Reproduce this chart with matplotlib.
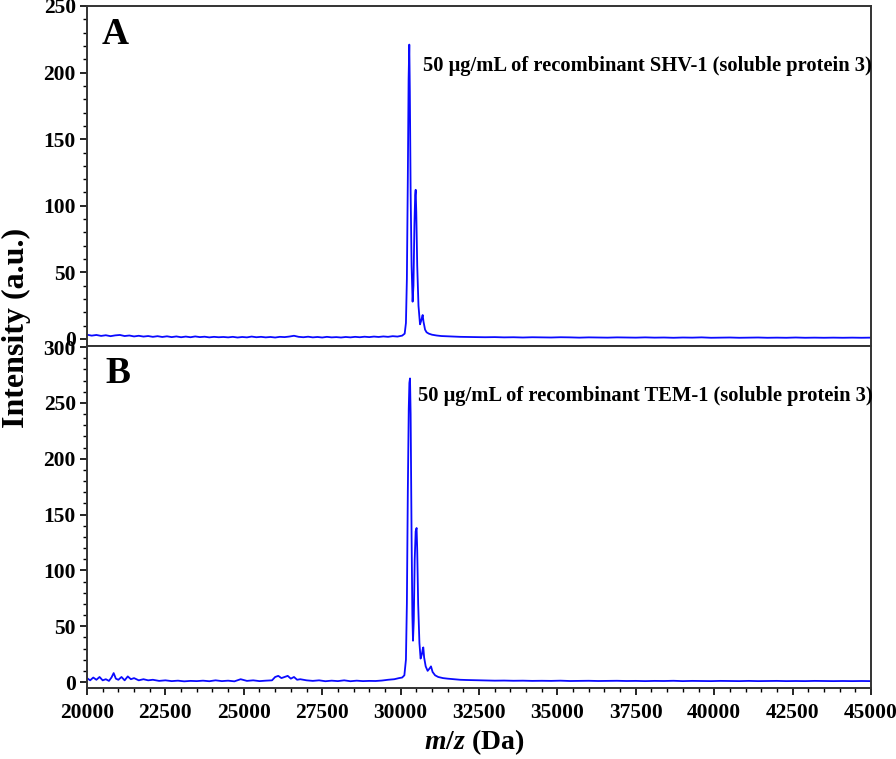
import numpy as np
import matplotlib
matplotlib.use('Agg')
import matplotlib.pyplot as plt
from matplotlib.ticker import MultipleLocator


plt.rcParams['font.family'] = ['Liberation Serif', 'DejaVu Serif']
plt.rcParams['font.weight'] = 'bold'
plt.rcParams['mathtext.fontset'] = 'custom'
plt.rcParams['mathtext.it'] = 'Liberation Serif:italic:bold'
plt.rcParams['mathtext.rm'] = 'Liberation Serif:bold'


# panel A : SHV-1 (m/z in Da, intensity in a.u.)
mz_a = [20000, 20150, 20300, 20450, 20600, 20750, 20900, 21050, 21200, 21350,
        21500, 21650, 21800, 21950, 22100, 22250, 22400, 22550, 22700, 22850,
        23000, 23150, 23300, 23450, 23600, 23750, 23900, 24050, 24200, 24350,
        24500, 24650, 24800, 24950, 25100, 25250, 25400, 25550, 25700, 25850,
        26000, 26150, 26300, 26450, 26600, 26750, 26900, 27050, 27200, 27350,
        27500, 27650, 27800, 27950, 28100, 28250, 28400, 28550, 28700, 28850,
        29000, 29150, 29300, 29450, 29600, 29750, 29900, 30050, 30130, 30170,
        30200, 30230, 30255, 30277, 30295, 30320, 30350, 30383, 30410, 30440,
        30465, 30481, 30500, 30530, 30570, 30619, 30660, 30690, 30704, 30730,
        30780, 30829, 30900, 31000, 31150, 31300, 31500, 31700, 31900, 32100,
        32400, 32700, 33000, 33300, 33600, 33900, 34200, 34500, 34800, 35100,
        35400, 35700, 36000, 36300, 36600, 36900, 37200, 37500, 37800, 38100,
        38400, 38700, 39000, 39300, 39600, 39900, 40200, 40500, 40800, 41100,
        41400, 41700, 42000, 42300, 42600, 42900, 43200, 43500, 43800, 44100,
        44400, 44700, 45000]
int_a = [3.2, 2.5, 3.0, 2.3, 2.8, 2.1, 2.7, 3.0, 2.2, 2.6,
         1.9, 2.4, 1.8, 2.2, 1.6, 2.1, 1.5, 2.0, 1.4, 1.9,
         1.3, 1.8, 1.3, 1.9, 1.4, 1.7, 1.2, 1.6, 1.3, 1.5,
         1.2, 1.6, 1.1, 1.5, 1.2, 1.8, 1.3, 1.6, 1.2, 1.5,
         1.1, 1.6, 1.4, 1.8, 2.4, 1.6, 1.3, 1.7, 1.2, 1.5,
         1.1, 1.6, 1.2, 1.4, 1.1, 1.5, 1.2, 1.6, 1.3, 1.7,
         1.4, 1.8, 1.5, 1.9, 1.6, 2.1, 1.8, 2.5, 4.0, 12,
         45, 120, 195, 221, 185, 110, 55, 28, 40, 85,
         108, 112, 95, 55, 25, 11, 14, 17, 18, 13,
         7, 5, 4, 3.2, 2.6, 2.2, 2.0, 1.8, 1.6, 1.5,
         1.4, 1.3, 1.4, 1.2, 1.3, 1.1, 1.3, 1.2, 1.1, 1.3,
         1.2, 1.0, 1.2, 1.1, 1.0, 1.2, 1.1, 1.0, 1.2, 1.0,
         1.1, 0.9, 1.1, 1.0, 1.2, 0.9, 1.0, 1.1, 0.9, 1.0,
         1.1, 0.9, 1.0, 0.9, 1.1, 0.9, 1.0, 0.9, 1.0, 0.9,
         1.0, 0.9, 1.0]

# panel B : TEM-1
mz_b = [20000, 20100, 20200, 20300, 20400, 20500, 20600, 20700, 20780, 20850,
        20920, 21000, 21100, 21200, 21300, 21400, 21500, 21650, 21800, 21950,
        22100, 22300, 22500, 22700, 22900, 23100, 23300, 23500, 23700, 23900,
        24100, 24300, 24500, 24700, 24900, 25100, 25300, 25500, 25700, 25900,
        26000, 26100, 26200, 26300, 26400, 26500, 26600, 26700, 26800, 27000,
        27200, 27400, 27600, 27800, 28000, 28200, 28400, 28600, 28800, 29000,
        29200, 29400, 29600, 29800, 29950, 30050, 30120, 30170, 30200, 30230,
        30260, 30280, 30300, 30320, 30350, 30375, 30395, 30420, 30450, 30480,
        30510, 30530, 30560, 30600, 30638, 30680, 30710, 30724, 30750, 30800,
        30862, 30920, 30969, 31020, 31100, 31200, 31350, 31500, 31700, 31900,
        32100, 32400, 32700, 33000, 33300, 33600, 33900, 34200, 34500, 34800,
        35100, 35400, 35700, 36000, 36300, 36600, 36900, 37200, 37500, 37800,
        38100, 38400, 38700, 39000, 39300, 39600, 39900, 40200, 40500, 40800,
        41100, 41400, 41700, 42000, 42300, 42600, 42900, 43200, 43500, 43800,
        44100, 44400, 44700, 45000]
int_b = [3.5, 1.5, 4.0, 2.0, 4.5, 1.5, 2.5, 1.0, 4.0, 8.0,
         3.0, 2.0, 4.5, 1.5, 5.0, 2.5, 3.5, 1.5, 2.5, 1.5,
         2.0, 1.0, 1.5, 0.8, 1.2, 0.6, 1.0, 0.8, 1.2, 0.7,
         1.5, 0.8, 1.2, 0.6, 2.5, 1.0, 1.5, 0.8, 1.2, 1.5,
         4.5, 5.5, 3.5, 4.5, 5.5, 3.0, 4.5, 2.0, 2.5, 1.5,
         1.0, 1.5, 0.7, 1.2, 0.8, 1.5, 0.7, 1.2, 0.8, 1.0,
         0.9, 1.3, 2.0, 2.5, 3.5, 4.0, 6.0, 20, 70, 170,
         245, 268, 272, 240, 130, 60, 37, 55, 110, 135,
         138, 118, 70, 35, 21, 25, 30, 31, 22, 14,
         10, 12, 14, 9, 6, 4.5, 3.5, 3.0, 2.5, 2.0,
         1.8, 1.6, 1.4, 1.2, 1.3, 1.1, 1.2, 1.0, 1.1, 1.0,
         1.2, 0.9, 1.0, 1.1, 0.9, 1.0, 1.1, 0.9, 1.0, 0.8,
         1.0, 0.9, 1.1, 0.8, 1.0, 0.9, 0.8, 1.0, 0.9, 0.8,
         1.0, 0.8, 0.9, 1.0, 0.8, 0.9, 0.8, 1.0, 0.9, 0.8,
         0.9, 0.8, 0.9, 0.8]

label_a = "50 \u03bcg/mL of recombinant SHV-1 (soluble protein 3)"
label_b = "50 \u03bcg/mL of recombinant TEM-1 (soluble protein 3)"

fig = plt.figure(figsize=(8.96, 7.59), dpi=100)
ax_a = fig.add_axes([0.0971, 0.5441, 0.875, 0.448])
ax_b = fig.add_axes([0.0971, 0.0935, 0.875, 0.4506], sharex=ax_a)

line_kw = dict(color='#0a0aff', lw=1.3)
ax_a.plot(mz_a, int_a, **line_kw)
ax_b.plot(mz_b, int_b, **line_kw)

ax_a.set_ylim(-5.3, 250)
ax_b.set_ylim(-5.4, 301)
ax_b.set_xlim(20000, 45000)

for ax in (ax_a, ax_b):
    for s in ax.spines.values():
        s.set_linewidth(1.4)
        s.set_color('#333333')
    ax.yaxis.set_major_locator(MultipleLocator(50))
    ax.yaxis.set_minor_locator(MultipleLocator(10))
    ax.tick_params(axis='both', which='major', direction='out', length=5, width=1.2,
                   labelsize=15.5, right=False, top=False, pad=3)
    ax.tick_params(axis='both', which='minor', direction='out', length=3, width=1.0,
                   right=False, top=False)
    for t in ax.get_yticklabels() + ax.get_xticklabels():
        t.set_fontweight('bold')

ax_b.xaxis.set_major_locator(MultipleLocator(2500))
ax_b.xaxis.set_minor_locator(MultipleLocator(500))
ax_a.tick_params(axis='x', which='both', bottom=False, labelbottom=False)
ax_b.tick_params(axis='x', pad=6)

ax_a.text(0.019, 0.915, 'A', transform=ax_a.transAxes, fontsize=27,
          fontweight='bold', va='center', ha='left')
ax_b.text(0.023, 0.92, 'B', transform=ax_b.transAxes, fontsize=27,
          fontweight='bold', va='center', ha='left')

ax_a.text(30714, 205, label_a, fontsize=14.8, fontweight='bold', va='center', ha='left')
ax_b.text(30555, 256, label_b, fontsize=14.8, fontweight='bold', va='center', ha='left')

fig.text(0.018, 0.568, 'Intensity (a.u.)', rotation=90, fontsize=23,
         fontweight='bold', ha='center', va='center')
fig.text(0.529, 0.022, r'$\mathit{m/z}$ (Da)', fontsize=20,
         fontweight='bold', ha='center', va='center')

fig.savefig('out.png', dpi=100)
